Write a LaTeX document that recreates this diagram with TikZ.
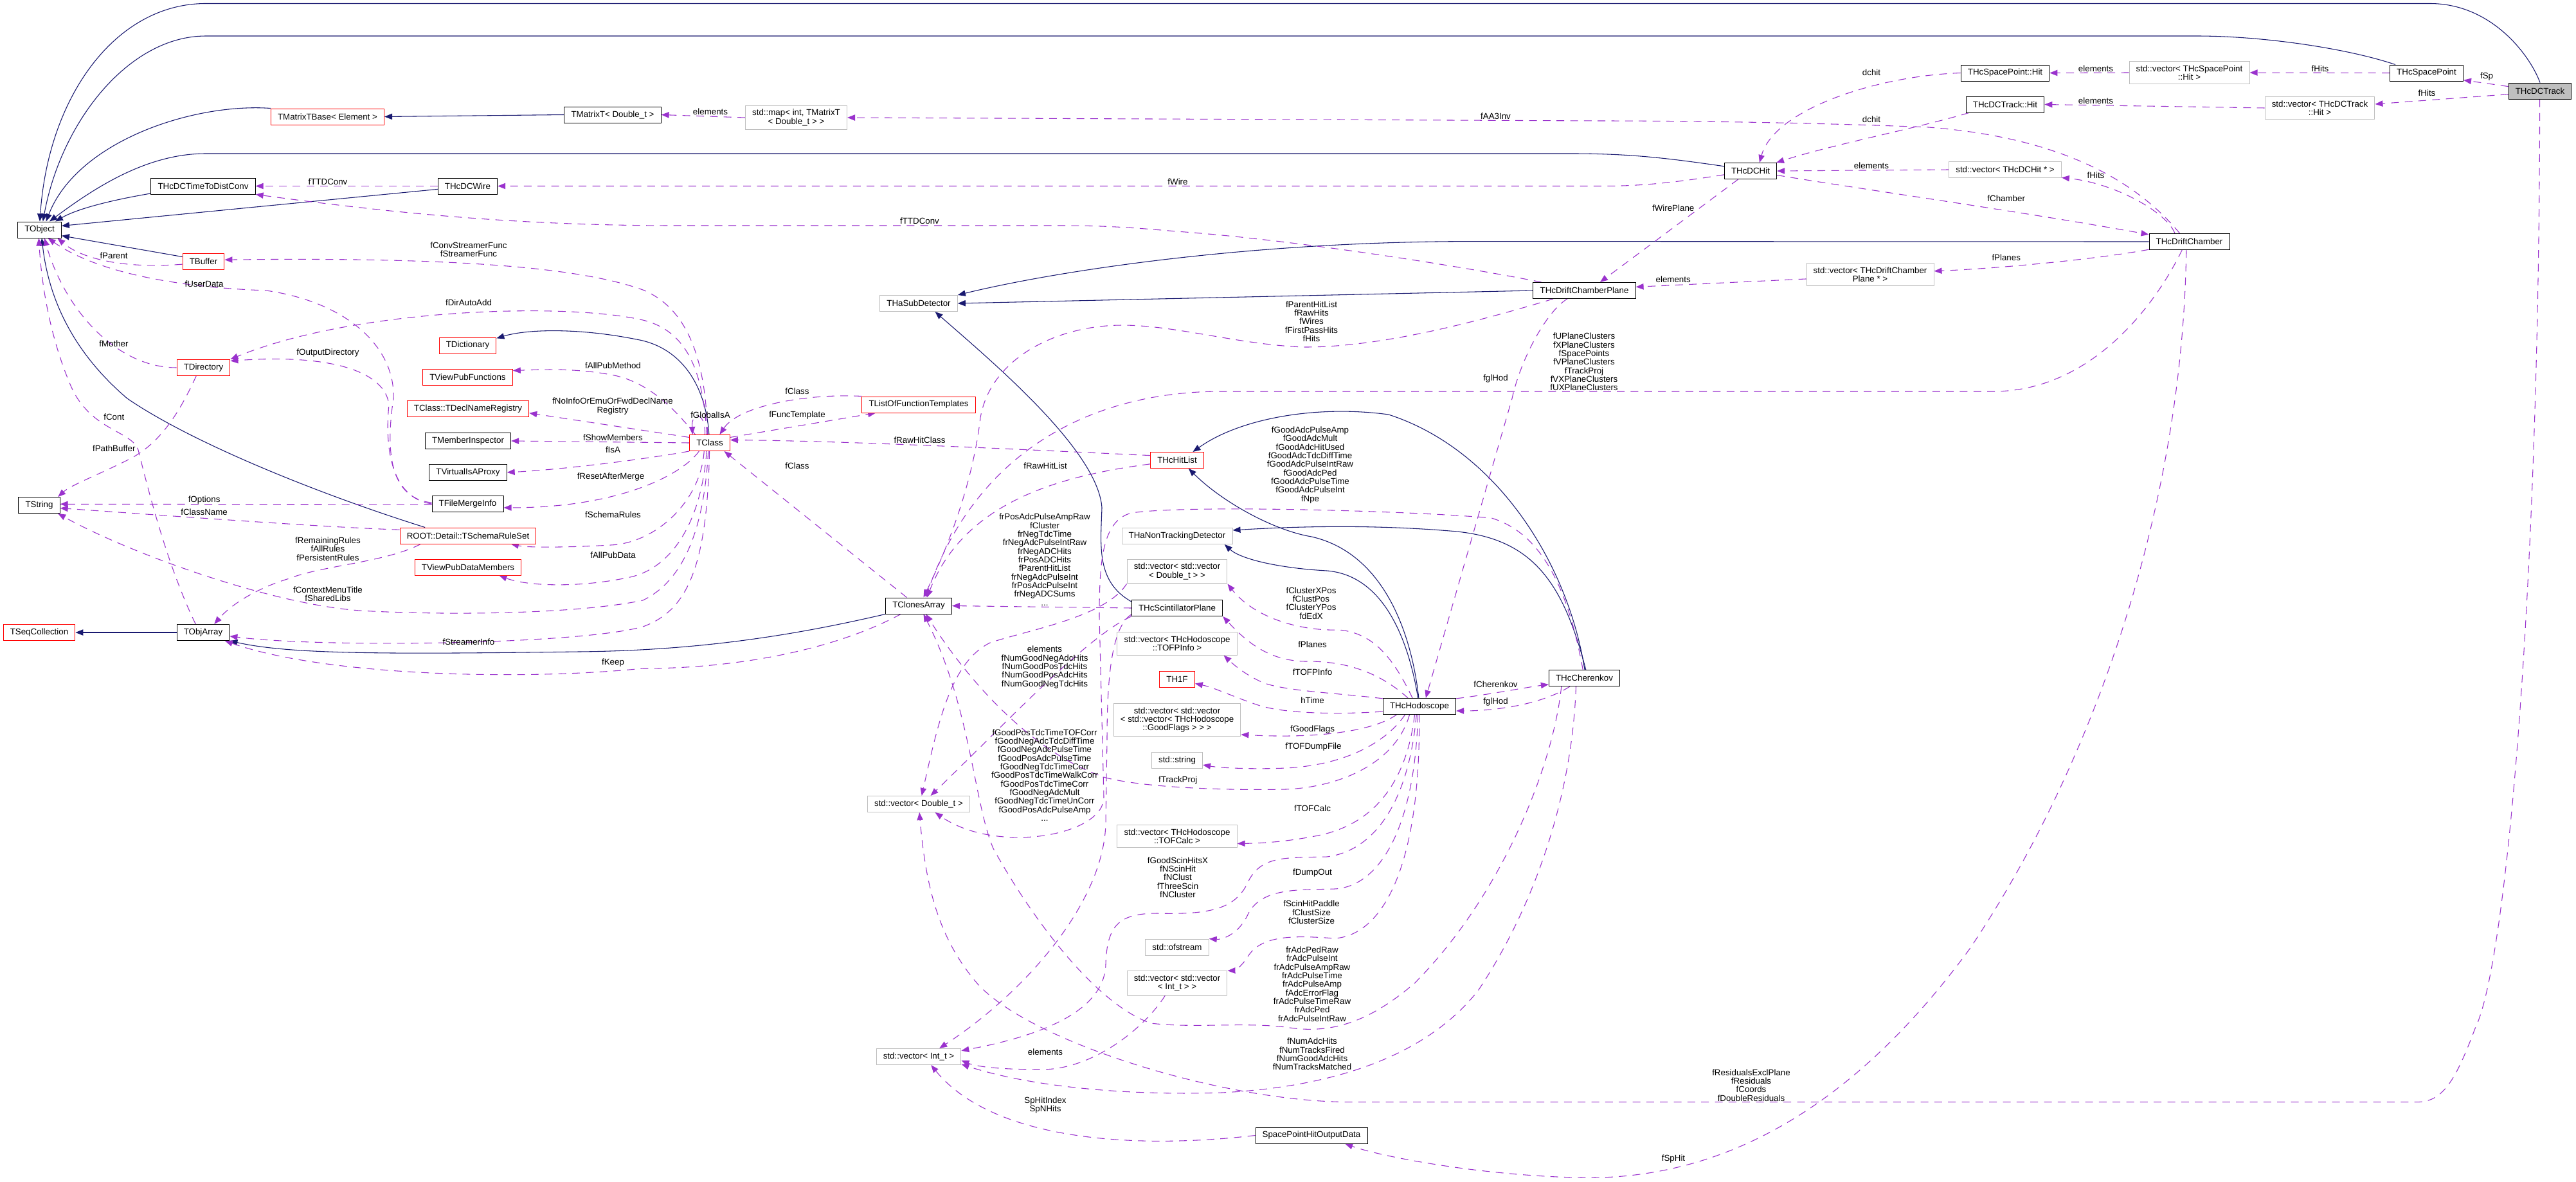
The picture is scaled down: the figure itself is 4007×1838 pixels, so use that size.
\documentclass[tikz,border=0pt]{standalone}
\usepackage{fontspec}
\setmainfont{Liberation Sans}
\usetikzlibrary{arrows.meta}
\definecolor{inhblue}{HTML}{191970}
\definecolor{usepurple}{HTML}{9A32CD}
\definecolor{extgray}{HTML}{BFBFBF}
\pgfdeclarelayer{background}
\pgfdeclarelayer{edges}
\pgfsetlayers{background,edges,main}
\begin{document}
\begin{tikzpicture}[x=0.75pt, y=-0.75pt, >={Triangle[length=9pt,width=7pt]},
  cls/.style={draw=black, fill=white, line width=0.75pt, inner xsep=8pt, inner ysep=4.5pt, minimum height=18.75pt, font=\fontsize{10}{10}\selectfont, align=center},
  nodoc/.style={cls, draw=red},
  ext/.style={cls, draw=extgray},
  lbl/.style={font=\fontsize{10}{10}\selectfont, align=center, inner sep=0pt},
  inherit/.style={->, draw=inhblue, line width=0.8pt},
  member/.style={->, draw=usepurple, line width=0.8pt, dash pattern=on 9pt off 7pt}]
\begin{pgfonlayer}{background}
\fill[white] (0,0) rectangle (4007,1838);
\end{pgfonlayer}
\useasboundingbox (0,0) rectangle (4007,1838);
% classes, left part
\node[cls] (tobject) at (61.5,357.5) {TObject};
\node[nodoc] (tmatrixtbase) at (509.5,181.5) {TMatrixTBase< Element >};
\node[cls] (tmatrixt) at (953,178.5) {TMatrixT< Double\_t >};
\node[ext] (stdmap) at (1238.5,183) {std::map< int, TMatrixT\\< Double\_t > >};
\node[cls] (dctimeconv) at (316,289.5) {THcDCTimeToDistConv};
\node[cls] (dcwire) at (727.5,289.5) {THcDCWire};
\node[nodoc] (tbuffer) at (316.5,406.5) {TBuffer};
\node[nodoc] (tdirectory) at (316.5,572) {TDirectory};
\node[nodoc] (tdictionary) at (727.5,537.5) {TDictionary};
\node[nodoc] (tviewpubfunc) at (727.5,586.5) {TViewPubFunctions};
\node[nodoc] (tdeclname) at (728,636) {TClass::TDeclNameRegistry};
\node[cls] (tmemberinsp) at (728,686) {TMemberInspector};
\node[cls] (tvirtualisa) at (728,735) {TVirtualIsAProxy};
\node[cls] (tfilemerge) at (727.5,784) {TFileMergeInfo};
\node[nodoc] (tschemarule) at (728,833.5) {ROOT::Detail::TSchemaRuleSet};
\node[nodoc] (tviewpubdata) at (728,882.5) {TViewPubDataMembers};
\node[cls] (tstring) at (61,786) {TString};
\node[nodoc] (tseqcoll) at (61,984) {TSeqCollection};
\node[cls] (tobjarray) at (316,984) {TObjArray};
\node[nodoc] (tclass) at (1104,689) {TClass};
\node[nodoc] (tlistfunc) at (1429,629.5) {TListOfFunctionTemplates};
\node[ext] (thasubdet) at (1429,472) {THaSubDetector};
\node[cls] (tclones) at (1429,942.5) {TClonesArray};
\node[ext] (vecdouble) at (1429,1251) {std::vector< Double\_t >};
\node[ext] (vecint) at (1429,1644) {std::vector< Int\_t >};
% classes, middle column
\node[nodoc] (hitlist) at (1831,716) {THcHitList};
\node[ext] (nontrack) at (1831,834) {THaNonTrackingDetector};
\node[ext] (vecvecdouble) at (1831,889) {std::vector< std::vector\\< Double\_t > >};
\node[cls] (scintplane) at (1831,946) {THcScintillatorPlane};
\node[ext] (vectofpinfo) at (1831,1001.5) {std::vector< THcHodoscope\\::TOFPInfo >};
\node[nodoc] (th1f) at (1831,1057) {TH1F};
\node[ext] (vecgoodflags) at (1831,1120) {std::vector< std::vector\\< std::vector< THcHodoscope\\::GoodFlags > > >};
\node[ext] (stdstring) at (1831,1183) {std::string};
\node[ext] (vectofcalc) at (1831,1301) {std::vector< THcHodoscope\\::TOFCalc >};
\node[ext] (ofstream) at (1831,1473.6) {std::ofstream};
\node[ext] (vecvecint) at (1831,1529.6) {std::vector< std::vector\\< Int\_t > >};
\node[cls] (sphitout) at (2040,1766.5) {SpacePointHitOutputData};
\node[cls] (hodoscope) at (2208,1099) {THcHodoscope};
\node[cls] (cherenkov) at (2464.5,1055) {THcCherenkov};
% classes, right part
\node[cls] (dcplane) at (2464.5,452) {THcDriftChamberPlane};
\node[cls] (dchit) at (2723,266) {THcDCHit};
\node[ext] (vecdcplane) at (2909,427) {std::vector< THcDriftChamber\\Plane * >};
\node[cls] (spacepointhit) at (3119,113.5) {THcSpacePoint::Hit};
\node[ext] (vecsphit) at (3405.5,113) {std::vector< THcSpacePoint\\::Hit >};
\node[cls] (spacepoint) at (3774.5,113.5) {THcSpacePoint};
\node[cls, fill=extgray] (dctrack) at (3951,141.5) {THcDCTrack};
\node[cls] (dctrackhit) at (3119,162.5) {THcDCTrack::Hit};
\node[ext] (vecdctrackhit) at (3608.5,168) {std::vector< THcDCTrack\\::Hit >};
\node[ext] (vecdchit) at (3119,264) {std::vector< THcDCHit * >};
\node[cls] (driftchamber) at (3405.5,376) {THcDriftChamber};
% edge labels
\node[lbl] (lelem1) at (3260,107) {elements};
\node[lbl] (lfhits1) at (3609,107) {fHits};
\node[lbl] (lfsp) at (3868,118.6) {fSp};
\node[lbl] (lfhits2) at (3775,145) {fHits};
\node[lbl] (lelem2) at (3260,156.6) {elements};
\node[lbl] (ldchit1) at (2911,112.7) {dchit};
\node[lbl] (ldchit2) at (2911,186) {dchit};
\node[lbl] (lelem3) at (2911,258) {elements};
\node[lbl] (lfhits3) at (3260,273) {fHits};
\node[lbl] (lfchamber) at (3120.7,309) {fChamber};
\node[lbl] (lfaa3) at (2326.5,181) {fAA3Inv};
\node[lbl] (lelem4) at (1105,174) {elements};
\node[lbl] (lfwireplane) at (2602.7,324) {fWirePlane};
\node[lbl] (lfwire) at (1832,282.7) {fWire};
\node[lbl] (lfttdconv1) at (510,282.7) {fTTDConv};
\node[lbl] (lfttdconv2) at (1430.5,344) {fTTDConv};
\node[lbl] (lfplanes1) at (3120.7,401) {fPlanes};
\node[lbl] (lelem5) at (2602.7,435) {elements};
\node[lbl] (lfglhod1) at (2326.5,589) {fglHod};
\node[lbl] (lparenthit) at (2040,500) {fParentHitList\\fRawHits\\fWires\\fFirstPassHits\\fHits};
\node[lbl] (luplane) at (2464,563) {fUPlaneClusters\\fXPlaneClusters\\fSpacePoints\\fVPlaneClusters\\fTrackProj\\fVXPlaneClusters\\fUXPlaneClusters};
\node[lbl] (lfclass1) at (1240,609) {fClass};
\node[lbl] (lffunctempl) at (1240,646) {fFuncTemplate};
\node[lbl] (lfglobalisa) at (1105,646) {fGlobalIsA};
\node[lbl] (lfrawhitclass) at (1430.5,685) {fRawHitClass};
\node[lbl] (lfclass2) at (1240,724.5) {fClass};
\node[lbl] (lfrawhitlist) at (1626,724.5) {fRawHitList};
\node[lbl] (lfrpos) at (1625,870.5) {frPosAdcPulseAmpRaw\\fCluster\\frNegTdcTime\\frNegAdcPulseIntRaw\\frNegADCHits\\frPosADCHits\\fParentHitList\\frNegAdcPulseInt\\frPosAdcPulseInt\\frNegADCSums\\...};
\node[lbl] (lfgoodadc) at (2038,723.5) {fGoodAdcPulseAmp\\fGoodAdcMult\\fGoodAdcHitUsed\\fGoodAdcTdcDiffTime\\fGoodAdcPulseIntRaw\\fGoodAdcPed\\fGoodAdcPulseTime\\fGoodAdcPulseInt\\fNpe};
\node[lbl] (lfcluster) at (2039.5,938.5) {fClusterXPos\\fClustPos\\fClusterYPos\\fdEdX};
\node[lbl] (lfplanes2) at (2041.5,1003) {fPlanes};
\node[lbl] (lftofpinfo) at (2041.5,1046) {fTOFPInfo};
\node[lbl] (lhtime) at (2041.5,1090) {hTime};
\node[lbl] (lfgoodflags) at (2041.5,1134.7) {fGoodFlags};
\node[lbl] (lftofdump) at (2043,1162.5) {fTOFDumpFile};
\node[lbl] (lftrackproj) at (1832.3,1214) {fTrackProj};
\node[lbl] (lfcherenkov) at (2326.5,1064.5) {fCherenkov};
\node[lbl] (lfglhod2) at (2326.5,1092) {fglHod};
\node[lbl] (lelemnum) at (1625,1038) {elements\\fNumGoodNegAdcHits\\fNumGoodPosTdcHits\\fNumGoodPosAdcHits\\fNumGoodNegTdcHits};
\node[lbl] (lfgoodpos) at (1625,1206) {fGoodPosTdcTimeTOFCorr\\fGoodNegAdcTdcDiffTime\\fGoodNegAdcPulseTime\\fGoodPosAdcPulseTime\\fGoodNegTdcTimeCorr\\fGoodPosTdcTimeWalkCorr\\fGoodPosTdcTimeCorr\\fGoodNegAdcMult\\fGoodNegTdcTimeUnCorr\\fGoodPosAdcPulseAmp\\...};
\node[lbl] (lftofcalc) at (2041.5,1258) {fTOFCalc};
\node[lbl] (lfgoodscin) at (1832,1365) {fGoodScinHitsX\\fNScinHit\\fNClust\\fThreeScin\\fNCluster};
\node[lbl] (lfdumpout) at (2041.5,1358) {fDumpOut};
\node[lbl] (lfscinhit) at (2040,1419.5) {fScinHitPaddle\\fClustSize\\fClusterSize};
\node[lbl] (lfradcped) at (2041,1531) {frAdcPedRaw\\frAdcPulseInt\\frAdcPulseAmpRaw\\frAdcPulseTime\\frAdcPulseAmp\\fAdcErrorFlag\\frAdcPulseTimeRaw\\frAdcPed\\frAdcPulseIntRaw};
\node[lbl] (lfnumadc) at (2041,1640) {fNumAdcHits\\fNumTracksFired\\fNumGoodAdcHits\\fNumTracksMatched};
\node[lbl] (lelem6) at (1626,1636.6) {elements};
\node[lbl] (lsphitindex) at (1626,1719.5) {SpHitIndex\\SpNHits};
\node[lbl] (lfresid) at (2724,1688.5) {fResidualsExclPlane\\fResiduals\\fCoords\\fDoubleResiduals};
\node[lbl] (lfsphit) at (2603,1802.6) {fSpHit};
\node[lbl] (lfconvstreamer) at (729,388) {fConvStreamerFunc\\fStreamerFunc};
\node[lbl] (lfparent) at (177,397.4) {fParent};
\node[lbl] (lfuserdata) at (317.6,442) {fUserData};
\node[lbl] (lfdirautoadd) at (729,470.5) {fDirAutoAdd};
\node[lbl] (lfmother) at (177,534.6) {fMother};
\node[lbl] (lfoutputdir) at (510,548.8) {fOutputDirectory};
\node[lbl] (lfallpubmethod) at (953.5,568.6) {fAllPubMethod};
\node[lbl] (lfnoinfo) at (953,632) {fNoInfoOrEmuOrFwdDeclName\\Registry};
\node[lbl] (lfshowmembers) at (953.5,680.4) {fShowMembers};
\node[lbl] (lfisa) at (953.5,700) {fIsA};
\node[lbl] (lfresetafter) at (950,741.6) {fResetAfterMerge};
\node[lbl] (lfschemarules) at (953.5,801) {fSchemaRules};
\node[lbl] (lfallpubdata) at (953.5,864) {fAllPubData};
\node[lbl] (lfcont) at (177.3,649) {fCont};
\node[lbl] (lfpathbuffer) at (177.3,698) {fPathBuffer};
\node[lbl] (lfoptions) at (317.6,777.6) {fOptions};
\node[lbl] (lfclassname) at (317.6,796.3) {fClassName};
\node[lbl] (lfremaining) at (510,854) {fRemainingRules\\fAllRules\\fPersistentRules};
\node[lbl] (lfcontextmenu) at (510,924) {fContextMenuTitle\\fSharedLibs};
\node[lbl] (lfstreamerinfo) at (729,998.8) {fStreamerInfo};
\node[lbl] (lfkeep) at (953.5,1030.7) {fKeep};
\begin{pgfonlayer}{edges}
% inheritance
\draw[inherit] (dctrack.north) .. controls (3935,85) and (3875,5.5) .. (3780,5.5) -- (320,5.5) .. controls (180,5.5) and (75,150) .. (tobject.88);
\draw[inherit] (spacepoint.165) .. controls (3650,75) and (3520,56) .. (3417,56) -- (320,56) .. controls (200,56) and (95,190) .. (tobject.68);
\draw[inherit] (tmatrixtbase.north west) .. controls (300,160) and (120,220) .. (tobject.52);
\draw[inherit] (tmatrixt.west) -- (tmatrixtbase.east);
\draw[inherit] (dchit.170) .. controls (2600,247) and (2540,239) .. (2446,239) -- (320,239) .. controls (230,239) and (150,290) .. (tobject.40);
\draw[inherit] (dctimeconv.188) .. controls (170,312) and (120,325) .. (tobject.28);
\draw[inherit] (dcwire.186) -- (tobject.10);
\draw[inherit] (tbuffer.168) -- (tobject.-15);
\draw[inherit] (tschemarule.169) .. controls (500,770) and (300,690) .. (198,620) .. controls (110,545) and (75,460) .. (tobject.-75);
\draw[inherit] (tclass.95) .. controls (1098,600) and (1060,540) .. (990,528) .. controls (900,510) and (820,512) .. (tdictionary.14);
\draw[inherit] (driftchamber.west) -- (2290,375.6) .. controls (1950,375.6) and (1650,420) .. (thasubdet.north east);
\draw[inherit] (dcplane.west) -- (thasubdet.east);
\draw[inherit] (scintplane.172) .. controls (1705,905) and (1712,850) .. (1714,790) .. controls (1708,700) and (1540,560) .. (thasubdet.-27);
\draw[inherit] (cherenkov.88) .. controls (2440,880) and (2330,700) .. (2160,645) .. controls (2050,630) and (1930,650) .. (hitlist.28);
\draw[inherit] (cherenkov.80) .. controls (2430,900) and (2380,835) .. (2255,826) .. controls (2120,815) and (2000,820) .. (nontrack.6);
\draw[inherit] (hodoscope.95) .. controls (2195,980) and (2150,860) .. (2040,835) .. controls (1980,825) and (1900,780) .. (hitlist.-36);
\draw[inherit] (hodoscope.100) .. controls (2190,990) and (2150,895) .. (2064,888) .. controls (1990,884) and (1930,870) .. (nontrack.-10);
\draw[inherit] (tobjarray.west) -- (tseqcoll.east);
\draw[inherit] (tclones.south west) .. controls (1250,985) and (1100,1012) .. (900,1014) .. controls (600,1018) and (450,1018) .. (tobjarray.south east);
% members, right part
\draw[member] (vecsphit.west) -- (spacepointhit.east);
\draw[member] (spacepoint.west) -- (vecsphit.east);
\draw[member] (dctrack.172) -- (spacepoint.-11);
\draw[member] (dctrack.186) -- (vecdctrackhit.4);
\draw[member] (vecdctrackhit.west) -- (dctrackhit.east);
\draw[member] (spacepointhit.west) .. controls (2920,118) and (2760,170) .. (dchit.43);
\draw[member] (dctrackhit.-167) .. controls (2980,200) and (2850,225) .. (dchit.18);
\draw[member] (vecdchit.west) -- (dchit.east);
\draw[member] (driftchamber.150) .. controls (3370,330) and (3290,285) .. (vecdchit.-8);
\draw[member] (dchit.-9) .. controls (2900,295) and (3150,330) .. (driftchamber.170);
\draw[member] (driftchamber.139) .. controls (3330,290) and (3220,215) .. (3000,198) .. controls (2800,190) and (2600,188) .. (2486,188) -- (stdmap.east);
\draw[member] (stdmap.west) -- (tmatrixt.east);
\draw[member] (dchit.-146) -- (dcplane.28);
\draw[member] (dchit.-172) .. controls (2600,285) and (2550,289.5) .. (2490,289.5) -- (dcwire.east);
\draw[member] (dcwire.west) -- (dctimeconv.east);
\draw[member] (dcplane.169) .. controls (2250,410) and (2000,372) .. (1830,360) .. controls (1760,354) and (1720,351) .. (1650,351) -- (1050,351) .. controls (800,351) and (600,330) .. (dctimeconv.south east);
\draw[member] (driftchamber.-169) .. controls (3250,405) and (3100,418) .. (vecdcplane.3);
\draw[member] (vecdcplane.184) -- (dcplane.4);
\draw[member] (dcplane.-154) .. controls (2405,485) and (2365,560) .. (2352,620) -- (hodoscope.53);
\draw[member] (dcplane.-165) .. controls (2300,500) and (2150,540) .. (2030,540) .. controls (1930,537) and (1830,506) .. (1746,506) .. controls (1640,506) and (1540,560) .. (1525,650) .. controls (1512,760) and (1470,860) .. (tclones.60);
\draw[member] (driftchamber.-131) .. controls (3350,480) and (3250,609) .. (3100,609) -- (1900,609) .. controls (1700,609) and (1520,700) .. (tclones.50);
\draw[member] (dctrack.-92) .. controls (3950,900) and (3900,1500) .. (3850,1600) .. controls (3820,1680) and (3800,1714.6) .. (3760,1714.6) -- (2100,1714.6) .. controls (1900,1714) and (1600,1620) .. (1520,1530) .. controls (1460,1460) and (1440,1380) .. (vecdouble.-85);
\draw[member] (driftchamber.-110) .. controls (3395,800) and (3250,1200) .. (3064,1476) .. controls (2900,1700) and (2700,1840) .. (2450,1832) .. controls (2300,1828) and (2150,1800) .. (sphitout.-14);
% members, middle
\draw[member] (hitlist.188) .. controls (1650,740) and (1500,780) .. (tclones.45);
\draw[member] (hitlist.170) .. controls (1500,695) and (1300,686) .. (tclass.8);
\draw[member] (tlistfunc.north west) .. controls (1260,612) and (1150,630) .. (tclass.40);
\draw[member] (tclass.15) -- (tlistfunc.-169);
\draw[member] (tclones.145) -- (tclass.-30);
\draw[member] (tclass.120) .. controls (1098,640) and (1075,640) .. (tclass.154);
\draw[member] (scintplane.west) -- (tclones.east);
\draw[member] (hodoscope.144) .. controls (2150,1050) and (2100,1028) .. (2030,1029) .. controls (1975,1028) and (1940,1000) .. (scintplane.south east);
\draw[member] (hodoscope.130) .. controls (2170,1030) and (2140,985) .. (2083,980) .. controls (2020,982) and (1950,960) .. (vecvecdouble.south east);
\draw[member] (hodoscope.168) .. controls (2080,1078) and (1990,1075) .. (1960,1060) .. controls (1935,1048) and (1920,1035) .. (vectofpinfo.-14);
\draw[member] (hodoscope.-172) .. controls (2080,1112) and (2000,1110) .. (1960,1098) .. controls (1920,1085) and (1890,1070) .. (th1f.-13);
\draw[member] (hodoscope.-160) .. controls (2140,1135) and (2060,1150) .. (vecgoodflags.-13);
\draw[member] (hodoscope.-150) .. controls (2160,1150) and (2100,1190) .. (2000,1195) .. controls (1950,1197) and (1900,1195) .. (stdstring.-10);
\draw[member] (hodoscope.-140) .. controls (2170,1190) and (2080,1225) .. (2000,1228) .. controls (1900,1230) and (1780,1225) .. (1720,1210) .. controls (1600,1170) and (1500,1050) .. (tclones.-49);
\draw[member] (cherenkov.-160) .. controls (2415,1200) and (2330,1400) .. (2200,1530) .. controls (2130,1590) and (2070,1610) .. (2000,1598) .. controls (1930,1590) and (1860,1600) .. (1790,1592) .. controls (1700,1560) and (1600,1420) .. (1545,1320) .. controls (1515,1250) and (1510,1100) .. (tclones.-60);
\draw[member] (cherenkov.-135) .. controls (2445,1250) and (2380,1420) .. (2300,1540) .. controls (2230,1630) and (2100,1690) .. (1900,1700) .. controls (1750,1705) and (1600,1690) .. (vecint.-10);
\draw[member] (cherenkov.-150) .. controls (2400,1095) and (2330,1106) .. (hodoscope.-7);
\draw[member] (hodoscope.12) .. controls (2320,1080) and (2370,1070) .. (cherenkov.-170);
\draw[member] (cherenkov.100) .. controls (2440,920) and (2400,830) .. (2320,806) .. controls (2200,795) and (1850,785) .. (1760,798) .. controls (1715,810) and (1710,870) .. (1710,960) -- (1717,1240) .. controls (1718,1300) and (1550,1330) .. (vecdouble.-27);
\draw[member] (scintplane.south west) .. controls (1690,990) and (1560,1130) .. (vecdouble.35);
\draw[member] (vecvecdouble.south west) .. controls (1720,960) and (1600,980) .. (1540,1000) .. controls (1480,1030) and (1460,1120) .. (vecdouble.70);
\draw[member] (scintplane.-172) .. controls (1730,975) and (1722,1050) .. (1722,1150) -- (1720,1280) .. controls (1718,1400) and (1600,1540) .. (vecint.22);
\draw[member] (hodoscope.-120) .. controls (2190,1200) and (2150,1280) .. (2050,1300) .. controls (2000,1310) and (1960,1312) .. (vectofcalc.-7);
\draw[member] (hodoscope.-110) .. controls (2190,1260) and (2130,1325) .. (2064,1333) .. controls (2000,1335) and (1960,1330) .. (1940,1375) .. controls (1920,1415) and (1880,1423) .. (1800,1421) .. controls (1740,1421) and (1722,1440) .. (1720,1500) .. controls (1718,1580) and (1600,1615) .. (vecint.8);
\draw[member] (hodoscope.-100) .. controls (2200,1300) and (2140,1380) .. (2076,1383) .. controls (2020,1385) and (1960,1380) .. (1940,1425) .. controls (1925,1455) and (1900,1462) .. (ofstream.north east);
\draw[member] (hodoscope.-92) .. controls (2210,1350) and (2150,1455) .. (2076,1460) .. controls (2010,1455) and (1960,1455) .. (1940,1490) .. controls (1930,1505) and (1920,1510) .. (vecvecint.north east);
\draw[member] (vecvecint.-134) .. controls (1780,1600) and (1700,1664) .. (1620,1664) .. controls (1560,1664) and (1520,1660) .. (vecint.-5);
\draw[member] (sphitout.west) .. controls (1750,1790) and (1540,1770) .. (vecint.-34);
% members, left part
\draw[member] (tclass.105) .. controls (1098,560) and (1070,480) .. (1000,451) .. controls (900,415) and (700,400) .. (tbuffer.4);
\draw[member] (tclass.110) .. controls (1094,580) and (1070,515) .. (1000,498) .. controls (880,470) and (550,480) .. (tdirectory.north east);
\draw[member] (tfilemerge.west) .. controls (610,775) and (598,700) .. (605,630) .. controls (600,580) and (520,550) .. (tdirectory.14);
\draw[member] (tfilemerge.178) .. controls (605,775) and (600,700) .. (612,620) .. controls (615,540) and (540,470) .. (414,452) .. controls (300,448) and (160,430) .. (tobject.-45);
\draw[member] (tbuffer.-172) .. controls (200,418) and (130,405) .. (tobject.-25);
\draw[member] (tdirectory.west) .. controls (180,572) and (100,480) .. (tobject.-60);
\draw[member] (tobjarray.132) .. controls (260,880) and (230,760) .. (215,700) .. controls (205,670) and (140,670) .. (110,600) .. controls (80,530) and (65,450) .. (tobject.-95);
\draw[member] (tdirectory.-131) .. controls (280,640) and (250,690) .. (200,715) .. controls (150,740) and (110,755) .. (tstring.24);
\draw[member] (tclass.150) .. controls (1060,650) and (1020,600) .. (960,585) .. controls (900,572) and (840,575) .. (tviewpubfunc.8);
\draw[member] (tclass.165) -- (tdeclname.-4);
\draw[member] (tclass.180) -- (tmemberinsp.east);
\draw[member] (tclass.south west) .. controls (1000,715) and (880,730) .. (tvirtualisa.east);
\draw[member] (tclass.-142) .. controls (1060,740) and (960,790) .. (tfilemerge.-6);
\draw[member] (tclass.-124) .. controls (1090,780) and (1020,845) .. (950,848) .. controls (880,852) and (820,852) .. (tschemarule.-11);
\draw[member] (tclass.-110) .. controls (1090,820) and (1040,885) .. (980,898) .. controls (900,915) and (820,912) .. (tviewpubdata.-15);
\draw[member] (tclass.-100) .. controls (1095,830) and (1060,905) .. (1000,934) .. controls (900,955) and (700,958) .. (560,950) .. controls (420,940) and (200,860) .. (tstring.-24);
\draw[member] (tclass.-92) .. controls (1100,880) and (1070,950) .. (1000,975) .. controls (900,1003) and (500,1008) .. (tobjarray.-8);
\draw[member] (tclones.-155) .. controls (1300,1010) and (1150,1040) .. (1000,1040) .. controls (800,1060) and (500,1050) .. (tobjarray.-21);
\draw[member] (tfilemerge.181) -- (tstring.3);
\draw[member] (tschemarule.175) .. controls (500,820) and (300,805) .. (tstring.-8);
\draw[member] (tschemarule.-170) .. controls (600,875) and (500,880) .. (450,900) .. controls (400,915) and (360,940) .. (tobjarray.37);
\end{pgfonlayer}
\end{tikzpicture}
\end{document}
